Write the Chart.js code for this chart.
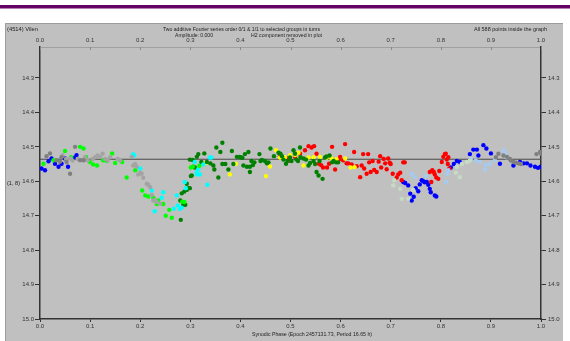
<!DOCTYPE html>
<html><head><meta charset="utf-8">
<script src="https://cdn.jsdelivr.net/npm/chart.js@4/dist/chart.umd.min.js"></script>
<style>html,body{margin:0;padding:0;background:#fff;}canvas{display:block;}</style>
</head><body>
<canvas id="c" width="570" height="341"></canvas>
<script>
const xTicks = [0.0,0.1,0.2,0.3,0.4,0.5,0.6,0.7,0.8,0.9,1.0];
const yTicks = [14.3,14.4,14.5,14.6,14.7,14.8,14.9,15.0];
const meanMag = 14.536;
const titleLeft = "(4514) Vilen";
const titleMain = "Two additive Fourier series order 0/1 & 1/1 to selected groups in turns";
const titleAmp = "Amplitude: 0.000";
const titleH2 = "H2 component removed in plot";
const titleRight = "All 588 points inside the graph";
const xTitle = "Synodic Phase (Epoch 2457131.73, Period 16.65 h)";
const yTitle = "(1, 8)";

const blueGroup = [[0.003,14.563],[0.01,14.568],[0.017,14.542],[0.023,14.534],[0.030,14.549],[0.037,14.558],[0.043,14.549],[0.05,14.534],[0.056,14.558],[0.07,14.531],[0.073,14.524],
[0.725,14.602],[0.729,14.605],[0.735,14.612],[0.739,14.636],[0.742,14.656],[0.746,14.645],[0.75,14.62],[0.755,14.629],[0.758,14.609],[0.762,14.597],[0.765,14.6],[0.768,14.603],[0.772,14.602],[0.775,14.61],[0.778,14.622],[0.78,14.632],[0.788,14.641],[0.791,14.644],[0.82,14.56],[0.826,14.55],[0.832,14.541],[0.838,14.544],[0.858,14.521],[0.865,14.508],[0.872,14.508],[0.875,14.525],[0.885,14.495],[0.891,14.505],[0.9,14.519],[0.918,14.549],[0.945,14.554],[0.958,14.544],[0.965,14.548],[0.972,14.548],[0.979,14.554],[0.988,14.558],[0.994,14.561],[0.999,14.558]];
const limeGroup = [[0.007,14.549],[0.027,14.539],[0.05,14.512],[0.062,14.53],[0.08,14.5],[0.087,14.505],[0.092,14.529],[0.1,14.544],[0.106,14.551],[0.114,14.554],[0.126,14.539],[0.133,14.541],[0.144,14.519],[0.15,14.547],[0.164,14.544],[0.173,14.589],[0.19,14.568],[0.204,14.627],[0.21,14.641],[0.216,14.644],[0.226,14.648],[0.233,14.666],[0.236,14.656],[0.246,14.666],[0.258,14.683],[0.251,14.7],[0.263,14.706],[0.284,14.659],[0.288,14.66],[0.301,14.56],[0.305,14.558],[0.318,14.555]];
const grayGroup = [[0.013,14.527],[0.02,14.519],[0.033,14.539],[0.04,14.543],[0.043,14.53],[0.053,14.544],[0.06,14.578],[0.07,14.5],[0.08,14.539],[0.087,14.539],[0.91,14.53],[0.915,14.52],[0.925,14.525],[0.932,14.529],[0.938,14.535],[0.94,14.54],[0.945,14.544],[0.95,14.546],[0.955,14.548],[0.96,14.55],[0.991,14.521],[0.998,14.515],[1.0,14.52]];
const lightGrayGroup = [[0.045,14.525],[0.052,14.535],[0.06,14.534],[0.065,14.54],[0.075,14.535],[0.09,14.53],[0.095,14.54],[0.105,14.535],[0.11,14.53],[0.115,14.525],[0.12,14.529],[0.125,14.52],[0.13,14.535],[0.135,14.54],[0.14,14.53],[0.155,14.535],[0.16,14.54],[0.183,14.529],[0.186,14.554],[0.19,14.55],[0.193,14.558],[0.196,14.58],[0.2,14.575],[0.203,14.578],[0.206,14.59],[0.213,14.607],[0.216,14.61],[0.22,14.617],[0.223,14.64],[0.226,14.656],[0.23,14.655],[0.233,14.66],[0.24,14.665]];
const cyanGroup = [[0.186,14.521],[0.188,14.525],[0.2,14.563],[0.223,14.627],[0.229,14.687],[0.243,14.648],[0.246,14.632],[0.267,14.68],[0.273,14.641],[0.275,14.67],[0.279,14.68],[0.283,14.677],[0.289,14.602],[0.291,14.62],[0.309,14.544],[0.313,14.573],[0.313,14.58],[0.316,14.565],[0.319,14.58],[0.326,14.551],[0.334,14.61],[0.339,14.531],[0.342,14.531]];
const darkGreenGroup = [[0.28,14.656],[0.283,14.635],[0.288,14.63],[0.293,14.625],[0.296,14.62],[0.29,14.668],[0.281,14.712],[0.286,14.668],[0.299,14.62],[0.293,14.607],[0.301,14.585],[0.303,14.583],[0.306,14.558],[0.309,14.56],[0.299,14.537],[0.305,14.538],[0.313,14.529],[0.316,14.521],[0.322,14.544],[0.328,14.519],[0.333,14.544],[0.34,14.548],[0.346,14.554],[0.348,14.566],[0.352,14.502],[0.356,14.589],[0.36,14.515],[0.364,14.488],[0.364,14.55],[0.37,14.55],[0.376,14.566],[0.383,14.512],[0.386,14.55],[0.393,14.529],[0.398,14.529],[0.401,14.53],[0.404,14.532],[0.406,14.554],[0.409,14.521],[0.413,14.558],[0.416,14.515],[0.419,14.558],[0.419,14.573],[0.422,14.541],[0.425,14.553],[0.428,14.545],[0.438,14.521],[0.44,14.541],[0.443,14.538],[0.449,14.541],[0.453,14.548],[0.456,14.545],[0.46,14.505],[0.467,14.527],[0.476,14.517],[0.48,14.52],[0.483,14.527],[0.486,14.537],[0.491,14.549],[0.494,14.541],[0.499,14.531],[0.502,14.541],[0.506,14.51],[0.509,14.52],[0.512,14.537],[0.515,14.541],[0.519,14.502],[0.52,14.53],[0.526,14.534],[0.531,14.537],[0.536,14.554],[0.539,14.547],[0.546,14.541],[0.549,14.55],[0.552,14.573],[0.556,14.583],[0.558,14.541],[0.564,14.593],[0.569,14.531],[0.572,14.528],[0.578,14.525],[0.583,14.545],[0.586,14.541],[0.591,14.545],[0.595,14.545]];
const yellowGroup = [[0.331,14.547],[0.379,14.58],[0.391,14.549],[0.451,14.585],[0.459,14.557],[0.471,14.51],[0.479,14.531],[0.489,14.53],[0.499,14.524],[0.509,14.524],[0.516,14.517],[0.526,14.554],[0.536,14.531],[0.546,14.53],[0.559,14.529],[0.572,14.532],[0.582,14.534],[0.592,14.536],[0.609,14.534],[0.62,14.56],[0.628,14.559]];
const redGroup = [[0.479,14.527],[0.492,14.533],[0.499,14.54],[0.509,14.529],[0.519,14.52],[0.529,14.51],[0.536,14.498],[0.542,14.502],[0.547,14.498],[0.552,14.52],[0.557,14.549],[0.561,14.553],[0.565,14.56],[0.573,14.56],[0.577,14.549],[0.583,14.5],[0.589,14.566],[0.597,14.536],[0.599,14.529],[0.605,14.539],[0.609,14.492],[0.612,14.548],[0.615,14.548],[0.622,14.551],[0.627,14.515],[0.632,14.556],[0.639,14.588],[0.642,14.554],[0.645,14.521],[0.647,14.563],[0.652,14.578],[0.655,14.521],[0.657,14.545],[0.66,14.573],[0.664,14.541],[0.667,14.567],[0.672,14.573],[0.676,14.543],[0.679,14.527],[0.681,14.56],[0.686,14.535],[0.689,14.548],[0.692,14.565],[0.695,14.534],[0.698,14.546],[0.7,14.55],[0.704,14.578],[0.712,14.589],[0.715,14.58],[0.719,14.575],[0.722,14.597],[0.725,14.545],[0.728,14.545],[0.778,14.573],[0.781,14.602],[0.783,14.568],[0.786,14.573],[0.788,14.58],[0.791,14.589],[0.795,14.593],[0.797,14.57],[0.802,14.544],[0.805,14.529],[0.808,14.521],[0.81,14.52],[0.812,14.537],[0.814,14.55],[0.815,14.53],[0.817,14.563]];
const lightBlueGroup = [[0.742,14.578],[0.748,14.588],[0.77,14.585],[0.811,14.602],[0.813,14.578],[0.815,14.568],[0.86,14.535],[0.87,14.54],[0.878,14.544],[0.888,14.566],[0.89,14.553],[0.898,14.55],[0.908,14.539],[0.925,14.51],[0.929,14.52],[0.931,14.53]];
const paleGreenGroup = [[0.705,14.612],[0.707,14.597],[0.719,14.622],[0.722,14.651],[0.735,14.651],[0.745,14.625],[0.83,14.575],[0.832,14.558],[0.838,14.588],[0.842,14.55],[0.852,14.544],[0.858,14.54]];

const FAM = '"Liberation Sans", Arial, sans-serif';
const pts = a => a.map(p => ({x:p[0], y:p[1]}));
const grp = (data, color) => ({type:'scatter', data:pts(data), backgroundColor:color, borderWidth:0, pointRadius:2.2, pointHoverRadius:2.2, order:1});

function fitText(ctx, text, x, y, w, align) {
  const nat = ctx.measureText(text).width;
  const s = w / nat;
  ctx.save();
  ctx.translate(x, y);
  ctx.scale(s, 1);
  ctx.textAlign = align || 'left';
  ctx.fillText(text, 0, 0);
  ctx.restore();
}

const decor = {
  id:'decor',
  beforeDraw(chart) {
    const ctx = chart.ctx;
    ctx.save();
    ctx.fillStyle = '#ffffff';
    ctx.fillRect(0,0,570,341);
    ctx.fillStyle = '#660066';
    ctx.fillRect(0,5,570,3.5);
    ctx.fillStyle = '#c0c0c0';
    ctx.fillRect(5,23,558,318);
    ctx.strokeStyle = '#9c9c9c';
    ctx.lineWidth = 1;
    ctx.beginPath();
    ctx.moveTo(5.5,341); ctx.lineTo(5.5,23.5); ctx.lineTo(563,23.5);
    ctx.stroke();
    ctx.restore();
  },
  afterDraw(chart) {
    const ctx = chart.ctx;
    const a = chart.chartArea;
    const xs = chart.scales.x2;
    ctx.save();
    ctx.strokeStyle = '#8a8a8a';
    ctx.lineWidth = 1;
    ctx.beginPath();
    xTicks.forEach(v => { const px = Math.round(xs.getPixelForValue(v)) + 0.5; ctx.moveTo(px, a.top); ctx.lineTo(px, a.top + 3); });
    ctx.stroke();
    ctx.fillStyle = '#222';
    ctx.textBaseline = 'middle';
    ctx.font = '6px ' + FAM;
    fitText(ctx, titleLeft, 7, 29, 31);
    fitText(ctx, titleMain, 163, 29.5, 157);
    fitText(ctx, titleAmp, 175, 35, 38);
    fitText(ctx, titleH2, 251, 35, 71);
    fitText(ctx, titleRight, 474, 29.5, 73);
    fitText(ctx, xTitle, 252, 334, 120);
    fitText(ctx, yTitle, 7, 183, 13);
    ctx.restore();
  }
};

const tickFont = {size:6, family:FAM};
new Chart(document.getElementById('c'), {
  type:'scatter',
  data:{datasets:[
    {type:'line', data:[{x:0,y:meanMag},{x:1,y:meanMag}], borderColor:'#4a4a4a', borderWidth:1, pointRadius:0, order:20},
    grp(grayGroup,'#808080'),
    grp(lightGrayGroup,'#a4a4a4'),
    grp(paleGreenGroup,'#c4dcc4'),
    grp(lightBlueGroup,'#a6caf0'),
    grp(limeGroup,'#00ff00'),
    grp(cyanGroup,'#00ffff'),
    grp(darkGreenGroup,'#008000'),
    grp(yellowGroup,'#ffff00'),
    grp(redGroup,'#ff0000'),
    grp(blueGroup,'#0000ff')
  ]},
  options:{
    responsive:false, animation:false, devicePixelRatio:1,
    layout:{padding:0},
    plugins:{legend:{display:false}, tooltip:{enabled:false}},
    scales:{
      x:{type:'linear', position:'bottom', min:0, max:1,
        afterBuildTicks:s=>{s.ticks = xTicks.map(v=>({value:v}));},
        afterFit:s=>{s.height = 22;},
        ticks:{callback:v=>Number(v).toFixed(1), font:tickFont, color:'#333', padding:1, maxRotation:0, autoSkip:false},
        grid:{drawOnChartArea:false, tickLength:3, color:'#333'},
        border:{color:'#333', width:1.5}},
      x2:{type:'linear', position:'top', min:0, max:1,
        afterBuildTicks:s=>{s.ticks = xTicks.map(v=>({value:v}));},
        afterFit:s=>{s.height = 47;},
        ticks:{callback:v=>Number(v).toFixed(1), font:tickFont, color:'#333', padding:3, maxRotation:0, autoSkip:false},
        grid:{drawOnChartArea:false, drawTicks:false},
        border:{color:'#a0a0a0', width:1}},
      y:{type:'linear', position:'left', reverse:true, min:14.21, max:15.0,
        afterBuildTicks:s=>{s.ticks = yTicks.map(v=>({value:v}));},
        afterFit:s=>{s.width = 40;},
        ticks:{callback:v=>Number(v).toFixed(1), font:tickFont, color:'#333', padding:1},
        grid:{drawOnChartArea:false, tickLength:5, color:'#333'},
        border:{color:'#333', width:1.5}},
      y2:{type:'linear', position:'right', reverse:true, min:14.21, max:15.0,
        afterBuildTicks:s=>{s.ticks = yTicks.map(v=>({value:v}));},
        afterFit:s=>{s.width = 29;},
        ticks:{callback:v=>Number(v).toFixed(1), font:tickFont, color:'#333', padding:2},
        grid:{drawOnChartArea:false, tickLength:5, color:'#333'},
        border:{color:'#333', width:1.5}}
    }
  },
  plugins:[decor]
});
</script>
</body></html>
